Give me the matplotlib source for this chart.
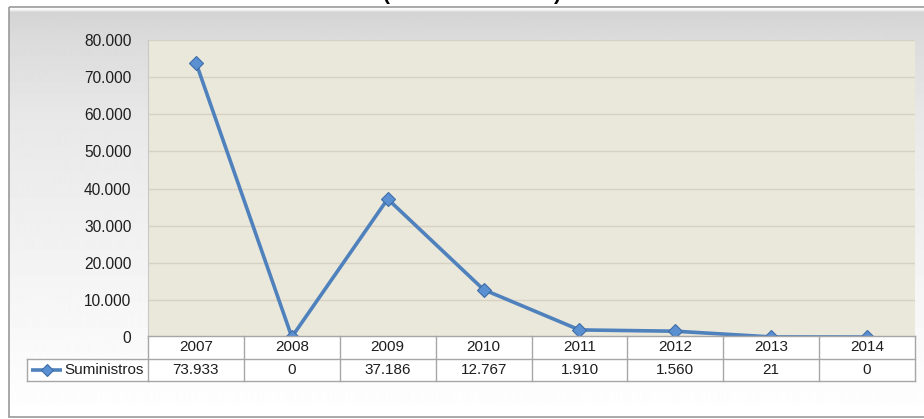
import numpy as np
import matplotlib
matplotlib.use("Agg")
import matplotlib.pyplot as plt
from matplotlib.lines import Line2D
from matplotlib.patches import Rectangle
from matplotlib.ticker import FuncFormatter

# data
years = ["2007", "2008", "2009", "2010", "2011", "2012", "2013", "2014"]
suministros = [73933, 0, 37186, 12767, 1910, 1560, 21, 0]
series_name = "Suministros"
y_ticks = [0, 10000, 20000, 30000, 40000, 50000, 60000, 70000, 80000]

W, H = 924, 419
plt.rcParams['font.family'] = ['Liberation Sans', 'DejaVu Sans']
fig = plt.figure(figsize=(W / 100, H / 100), dpi=100)
fig.patch.set_facecolor("white")

LINE = "#4F81BD"
TXT = "#1e1e1e"
GRID = "#A6A6A6"

# background frame with grey-to-white gradient (pixel coords)
bg = fig.add_axes([0, 0, 1, 1], zorder=-5)
bg.set_xlim(0, W)
bg.set_ylim(H, 0)
bg.axis("off")
rows = np.arange(8, 418)
shade = np.interp(rows, [8, 10, 13, 40, 120, 320, 417], [1.0, 0.97, 0.83, 0.86, 0.91, 0.97, 1.0])
grad = np.repeat(shade[:, None], 2, axis=1)
bg.imshow(grad, cmap="gray", vmin=0, vmax=1, extent=(9, 930, 417, 8), aspect="auto")
bg.add_patch(Rectangle((9, 7.5), 930, 409.5, fill=False, edgecolor="#9a9a9a", lw=1.2))
# cut-off title (only the bottom of the parentheses is visible)
bg.text(386, 0.5, "(", fontsize=15, fontweight="bold", ha="center", va="baseline", color="black")
bg.text(557, 0.5, ")", fontsize=15, fontweight="bold", ha="center", va="baseline", color="black")

# plot area
x0, x1, yt, yb = 148, 915, 40, 337
ax = fig.add_axes([x0 / W, 1 - yb / H, (x1 - x0) / W, (yb - yt) / H])
ax.set_facecolor("#EAE7DB")
x = np.arange(len(years))
ax.set_xlim(-0.5, len(years) - 0.5)
ax.set_ylim(0, 80000)
ax.set_yticks(y_ticks)
ax.yaxis.set_major_formatter(FuncFormatter(lambda v, p: f"{int(v):,}".replace(",", ".")))
ax.tick_params(axis="y", length=0, pad=12, labelsize=11.2, labelcolor=TXT)
ax.set_xticks([])
ax.grid(axis="y", color="#D6D2C2", lw=1)
ax.set_axisbelow(True)
for s in ["top", "right", "bottom"]:
    ax.spines[s].set_visible(False)
ax.spines["left"].set_color("#C8C8C8")
ax.plot(x, suministros, color=LINE, lw=2.6, marker="D", ms=7,
        mfc="#5A8FD2", mec="#3E6DA8", mew=0.8, clip_on=False, zorder=3)

# data table under the plot
tb, tt = 381, 336
tab = fig.add_axes([x0 / W, 1 - tb / H, (x1 - x0) / W, (tb - tt) / H], zorder=1)
tab.set_xlim(ax.get_xlim())
tab.set_ylim(0, 1)
tab.axis("off")
n = len(years)
left_frac = (27 - x0) / (x1 - x0)
kw = dict(color=GRID, lw=1, clip_on=False)
tab.add_patch(Rectangle((-0.5, 0), n, 1, facecolor="white", edgecolor="none", zorder=0))
tab.add_patch(Rectangle((left_frac, 0), -left_frac, 0.49, transform=tab.transAxes,
                        facecolor="white", edgecolor="none", clip_on=False, zorder=0))
for i in range(n + 1):
    tab.plot([i - 0.5, i - 0.5], [0, 1], **kw)
tab.plot([-0.5, n - 0.5], [1, 1], **kw)
tab.plot([-0.5, n - 0.5], [0, 0], **kw)
tab.plot([left_frac, 1], [0.49, 0.49], transform=tab.transAxes, **kw)
tab.plot([left_frac, 0], [0, 0], transform=tab.transAxes, **kw)
tab.plot([left_frac, left_frac], [0, 0.49], transform=tab.transAxes, **kw)
for i, (yr, v) in enumerate(zip(years, suministros)):
    tab.text(i, 0.75, yr, ha="center", va="center", fontsize=11, color=TXT)
    tab.text(i, 0.245, f"{v:,}".replace(",", "."), ha="center", va="center", fontsize=11, color=TXT)

# legend key inside the label cell
lx0 = (31 - x0) / (x1 - x0)
lx1 = (62 - x0) / (x1 - x0)
tab.add_line(Line2D([lx0, lx1], [0.245, 0.245], transform=tab.transAxes, color=LINE, lw=2.6,
                    solid_capstyle="butt", clip_on=False))
tab.add_line(Line2D([(lx0 + lx1) / 2], [0.245], transform=tab.transAxes, marker="D", ms=6,
                    mfc="#5A8FD2", mec="#3E6DA8", mew=0.8, clip_on=False))
tab.text((64 - x0) / (x1 - x0), 0.245, series_name, transform=tab.transAxes, ha="left", va="center",
         fontsize=11, color=TXT)

fig.savefig("out.png", dpi=100)
